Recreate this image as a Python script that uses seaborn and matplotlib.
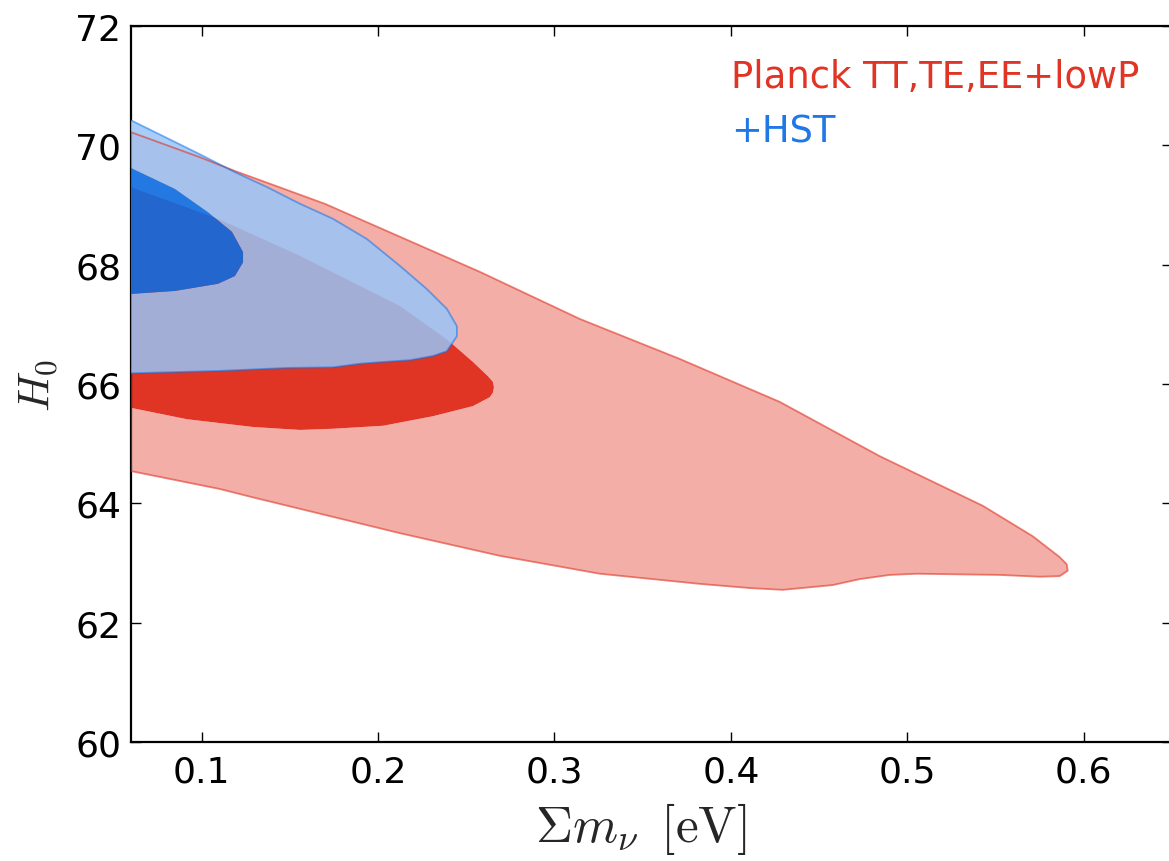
import numpy as np
import matplotlib
matplotlib.use("Agg")
import matplotlib.pyplot as plt
from matplotlib.path import Path
from matplotlib.patches import PathPatch
import seaborn as sns

# ---- data: contour boundaries (sum m_nu [eV], H0) ----
red_outer_x = [0.0600, 0.0991, 0.1189, 0.1699, 0.2577, 0.3144, 0.3710, 0.4277, 0.4844, 0.5427, 0.5710,
               0.5863, 0.5903, 0.5909, 0.5863, 0.5750, 0.5524, 0.5053, 0.4900, 0.4730, 0.4577,
               0.4294, 0.4107, 0.3824, 0.3257, 0.2691, 0.2124, 0.1291, 0.1104, 0.0600]
red_outer_y = [70.22, 69.80, 69.57, 69.02, 67.88, 67.09, 66.42, 65.70, 64.79, 63.96, 63.45,
               63.10, 62.98, 62.87, 62.78, 62.77, 62.80, 62.82, 62.80, 62.73, 62.63,
               62.55, 62.58, 62.65, 62.82, 63.12, 63.50, 64.10, 64.24, 64.54]

red_inner_x = [0.0600, 0.1093, 0.1558, 0.2124, 0.2390, 0.2538, 0.2623, 0.2650, 0.2657, 0.2652, 0.2634, 0.2538,
               0.2311, 0.2028, 0.1744, 0.1558, 0.1291, 0.0917, 0.0600]
red_inner_y = [69.30, 68.77, 68.15, 67.31, 66.75, 66.37, 66.13, 66.04, 65.95, 65.86, 65.78, 65.63,
               65.46, 65.30, 65.25, 65.23, 65.28, 65.41, 65.60]

blue_outer_x = [0.0600, 0.0991, 0.1189, 0.1371, 0.1558, 0.1744, 0.1937, 0.2124, 0.2277, 0.2390, 0.2447, 0.2447,
                0.2390, 0.2311, 0.2181, 0.2028, 0.1897, 0.1744, 0.1484, 0.1104, 0.0600]
blue_outer_y = [70.42, 69.85, 69.55, 69.30, 69.02, 68.77, 68.43, 67.98, 67.59, 67.26, 66.97, 66.80,
                66.55, 66.47, 66.40, 66.37, 66.34, 66.28, 66.27, 66.22, 66.18]

blue_inner_x = [0.0600, 0.0849, 0.1036, 0.1172, 0.1235, 0.1235, 0.1189, 0.1093, 0.0849, 0.0600]
blue_inner_y = [69.62, 69.27, 68.88, 68.55, 68.21, 68.04, 67.81, 67.68, 67.56, 67.51]

xticks = [0.1, 0.2, 0.3, 0.4, 0.5, 0.6]
yticks = [60, 62, 64, 66, 68, 70, 72]
labels = ["Planck TT,TE,EE+lowP", "+HST"]

red = "#E03424"
blue = "#006FED"
pale = 0.6


def lighten(c):
    r = matplotlib.colors.to_rgb(c)
    return tuple(v * (1 - pale) + pale for v in r)


def ring(ox, oy, ix, iy):
    """outer contour with the inner contour cut out (a 2-sigma band)."""
    outer = np.column_stack([ox, oy])
    inner = np.column_stack([ix, iy])[::-1]
    verts = np.vstack([outer, outer[:1], inner, inner[:1]])
    codes = ([Path.MOVETO] + [Path.LINETO] * (len(outer) - 1) + [Path.CLOSEPOLY]
             + [Path.MOVETO] + [Path.LINETO] * (len(inner) - 1) + [Path.CLOSEPOLY])
    return Path(verts, codes)


sns.set_style("ticks")
plt.rcParams["font.family"] = ["DejaVu Sans"]
plt.rcParams["mathtext.fontset"] = "cm"

fig = plt.figure(figsize=(11.69, 8.62), dpi=100)
ax = fig.add_axes([131 / 1169, (862 - 743) / 862, 1041 / 1169, 716 / 862])

# red (Planck) contours, opaque
ax.add_patch(PathPatch(ring(red_outer_x, red_outer_y, red_inner_x, red_inner_y),
                       facecolor=lighten(red), lw=0, zorder=1))
ax.fill(red_inner_x, red_inner_y, color=red, lw=0, zorder=2)
# blue (+HST) contours, overlaid with alpha
ax.add_patch(PathPatch(ring(blue_outer_x, blue_outer_y, blue_inner_x, blue_inner_y),
                       facecolor=lighten(blue), alpha=0.85, lw=0, zorder=3))
ax.fill(blue_inner_x, blue_inner_y, color=blue, alpha=0.85, lw=0, zorder=4)

# contour edges
sns.lineplot(x=red_outer_x + [red_outer_x[0]], y=red_outer_y + [red_outer_y[0]], sort=False,
             estimator=None, color=red, lw=1.3, alpha=0.6, ax=ax, zorder=5)
sns.lineplot(x=blue_outer_x, y=blue_outer_y, sort=False, estimator=None,
             color=blue, lw=1.3, alpha=0.5, ax=ax, zorder=6)

ax.set_xlim(0.06, 0.65)
ax.set_ylim(60, 72)
ax.set_xticks(xticks)
ax.set_xticklabels([f"{t:.1f}" for t in xticks])
ax.set_yticks(yticks)
ax.set_yticklabels([str(t) for t in yticks])
ax.tick_params(direction="in", length=7, width=1.0, top=True, right=True,
               labelsize=26, colors="black")
ax.tick_params(axis="x", pad=9)
ax.tick_params(axis="y", pad=7)
for s in ax.spines.values():
    s.set_linewidth(1.6)
    s.set_color("black")

ax.set_xlabel(r"$\Sigma m_\nu\ \, [\mathrm{eV}]$", fontsize=37, labelpad=8)
ax.xaxis.label.set_x(0.49)
ax.set_ylabel(r"$H_0$", fontsize=32, labelpad=11)

ax.text(0.5764, 0.9148, labels[0], color=red, fontsize=26.6, transform=ax.transAxes,
        ha="left", va="baseline")
ax.text(0.5764, 0.838, labels[1], color="#1F78E6", fontsize=26.6, transform=ax.transAxes,
        ha="left", va="baseline")

fig.savefig("out.png", dpi=100)
